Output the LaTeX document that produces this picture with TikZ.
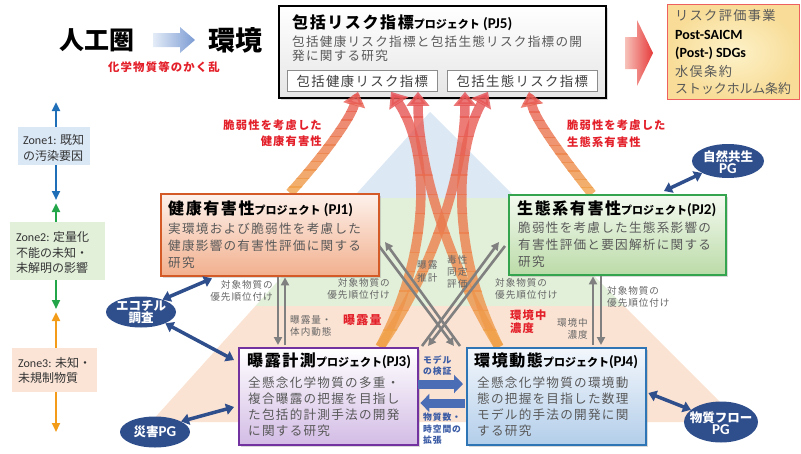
\documentclass[tikz,border=0pt]{standalone}
\usepackage{fontspec}
\setmainfont{Noto Sans CJK JP}
\newfontfamily\jp{Noto Sans CJK JP}[LetterSpace=10]
\newfontfamily\jpn{Noto Sans CJK JP}
\newfontfamily\carl{Carlito}
\usetikzlibrary{arrows.meta,shapes.geometric,calc,shadows}
\definecolor{pyrblue}{HTML}{DCE8F4}
\definecolor{pyrgreen}{HTML}{E2EFD9}
\definecolor{pyrorange}{HTML}{FBE3D3}
\definecolor{zblue}{HTML}{1F6FB8}
\definecolor{zgreen}{HTML}{23A64A}
\definecolor{zorange}{HTML}{F39C1A}
\definecolor{zbluebg}{HTML}{DAE7F5}
\definecolor{zgreenbg}{HTML}{E2F0DA}
\definecolor{zorangebg}{HTML}{FBE4D6}
\definecolor{bodygray}{HTML}{595959}
\definecolor{glabc}{HTML}{666666}
\definecolor{redlab}{HTML}{E3202A}
\definecolor{navylab}{HTML}{3B5BA5}
\definecolor{navy}{HTML}{2F4E8C}
\definecolor{grayarr}{HTML}{808080}
\definecolor{blockc}{HTML}{4A6DB5}
\definecolor{ortop}{HTML}{E54E55}
\definecolor{orbot}{HTML}{F0A048}
\definecolor{pjAb}{HTML}{D45B28}\definecolor{pjAt}{HTML}{FDF1EB}\definecolor{pjAu}{HTML}{F2B08E}
\definecolor{pjBb}{HTML}{35A44F}\definecolor{pjBt}{HTML}{F4FAF0}\definecolor{pjBu}{HTML}{BBDBA8}
\definecolor{pjCb}{HTML}{7232A0}\definecolor{pjCt}{HTML}{FFFFFF}\definecolor{pjCu}{HTML}{D3BCE5}
\definecolor{pjDb}{HTML}{2E75B6}\definecolor{pjDt}{HTML}{F3F7FC}\definecolor{pjDu}{HTML}{B3CEEA}
\definecolor{yin}{HTML}{FDF2C9}\definecolor{yout}{HTML}{F8DC97}\definecolor{yborder}{HTML}{EE5F5F}
\definecolor{arrL}{HTML}{E4ECF7}\definecolor{arrR}{HTML}{7B9BD3}
\definecolor{redL}{HTML}{F7C2BA}\definecolor{redR}{HTML}{E63B3B}
\definecolor{inboxtext}{HTML}{404040}
\newcommand\gradcurve[3]{%
  \foreach \i in {0,...,13}{%
    \pgfmathsetmacro\ya{#2-14+(#3-#2+16)*\i/14}%
    \pgfmathsetmacro\yb{#2-14+(#3-#2+16)*(\i+1)/14+0.4}%
    \pgfmathsetmacro\pc{100*\i/13}%
    \begin{scope}
      \clip (0,\ya) rectangle (801,\yb);
      \draw[orarrow, draw=orbot!\pc!ortop] #1;
    \end{scope}
  }%
}
\newcommand\pgfont{\carl\bfseries\fontsize{15}{12.5}\selectfont}
\begin{document}
\begin{tikzpicture}[x=1pt,y=-1pt,
  box/.style={draw, line width=2pt, anchor=north west, inner sep=0pt,
    drop shadow={shadow xshift=1.5pt,shadow yshift=-1.5pt,opacity=.3}},
  jbody/.style={anchor=base west, inner sep=0pt, text=bodygray, font=\jp\fontsize{12.6}{14}\selectfont},
  ttl/.style={anchor=base west, inner sep=0pt, text=black, font=\bfseries},
  glab/.style={inner sep=0pt, text=glabc, font=\jp\fontsize{9.6}{10}\selectfont},
  rlab/.style={inner sep=0pt, text=redlab, font=\jp\bfseries\fontsize{11.3}{12}\selectfont},
  nlab/.style={anchor=base west, inner sep=0pt, text=navylab, font=\jp\bfseries\fontsize{8.8}{10}\selectfont},
  pg/.style={ellipse, fill=navy, inner sep=0pt},
  pgt/.style={text=white, font=\jpn\bfseries\fontsize{12.5}{12.5}\selectfont, align=center, inner sep=0pt},
  navyarrow/.style={draw=navy, line width=3.5pt, {Triangle[width=11pt,length=8pt]}-{Triangle[width=11pt,length=8pt]}},
  grayarrow/.style={draw=grayarr, line width=2.6pt, -{Triangle[width=8pt,length=8pt]}},
  blockarrow/.style={draw=blockc, line width=9pt, -{Triangle[width=18pt,length=9pt]}},
  zonearrow/.style={line width=2.5pt, {Triangle[width=8pt,length=9pt]}-{Triangle[width=8pt,length=9pt]}},
  orarrow/.style={line width=9.5pt, opacity=0.8, -{Triangle[width=22pt,length=14pt]}},
  zonebox/.style={anchor=north west, inner sep=0pt},
  zonetext/.style={anchor=base west, inner sep=0pt, text=black!80, font=\jpn\fontsize{12}{15.5}\selectfont},
  inboxt/.style={inner sep=0pt, text=inboxtext, font=\jp\fontsize{13.4}{14}\selectfont},
  ylw/.style={anchor=base west, inner sep=0pt, text=bodygray, font=\jp\fontsize{13.2}{14}\selectfont},
  ylat/.style={anchor=base west, inner sep=0pt, text=black, font=\carl\bfseries\fontsize{14}{15}\selectfont}
]
\useasboundingbox (0,0) rectangle (801,453);
% background pyramid
\fill[pyrblue] (430,112) -- (516,198) -- (352.6,198) -- cycle;
\fill[pyrgreen] (352.6,198) -- (516,198) -- (624,306) -- (255.4,306) -- cycle;
\fill[pyrorange] (255.4,306) -- (624,306) -- (740,422) -- (151,422) -- cycle;

% zone arrows
\coordinate (z1t) at (56,102); \coordinate (z1b) at (56,200);
\coordinate (z2t) at (56,203); \coordinate (z2b) at (56,309);
\coordinate (z3t) at (56,312); \coordinate (z3b) at (56,432);
\draw[zonearrow, draw=zblue] (z1t) -- (z1b);
\draw[zonearrow, draw=zgreen] (z2t) -- (z2b);
\draw[zonearrow, draw=zorange] (z3t) -- (z3b);
\node[zonebox, fill=zbluebg, minimum width=72, minimum height=38] (zl1) at (18,127) {};
\node[zonebox, fill=zgreenbg, minimum width=95, minimum height=58] (zl2) at (10,222) {};
\node[zonebox, fill=zorangebg, minimum width=85, minimum height=44] (zl3) at (12,348) {};
\node[zonetext] (zt1a) at (23,144.5) {{\carl Zone1:} 既知};
\node[zonetext] (zt1b) at (23,160) {の汚染要因};
\node[zonetext] (zt2a) at (16,241.5) {{\carl Zone2:} 定量化};
\node[zonetext] (zt2b) at (16,257) {不能の未知・};
\node[zonetext] (zt2c) at (16,272.5) {未解明の影響};
\node[zonetext] (zt3a) at (18,367.5) {{\carl Zone3:} 未知・};
\node[zonetext] (zt3b) at (18,382.5) {未規制物質};

% header
\node[inner sep=0pt, font=\jpn\bfseries\fontsize{25}{25}\selectfont] (jinko) at (97,40) {人工圏};
\node[inner sep=0pt, font=\jpn\bfseries\fontsize{27}{27}\selectfont] (kankyo) at (235,40) {環境};
\node[rlab, font=\jp\bfseries\fontsize{11.4}{12}\selectfont] (kakuran) at (164,67) {化学物質等のかく乱};
\shade[left color=arrL, right color=arrR] (153,33) -- (180,33) -- (180,27) -- (195,40) -- (180,53) -- (180,47) -- (153,47) -- cycle;

% PJ5 and output box
\node[box, draw=black, top color=white, bottom color=black!10, minimum width=327, minimum height=92] (pj5) at (278,5) {};
\node[anchor=north west, draw=black!45, line width=0.8pt, fill=white, minimum width=150, minimum height=21, inner sep=0pt] (h1) at (287,70) {};
\node[anchor=north west, draw=black!45, line width=0.8pt, fill=white, minimum width=150, minimum height=21, inner sep=0pt] (h2) at (447,70) {};
\node[inboxt] (h1t) at (h1) {包括健康リスク指標};
\node[inboxt] (h2t) at (h2) {包括生態リスク指標};
\node[ttl] (p5t) at (292,28.5) {{\jp\fontsize{16}{16}\selectfont 包括リスク指標}{\jpn\fontsize{11}{11}\selectfont プロジェクト}{\carl\fontsize{15}{15}\selectfont{} (PJ5)}};
\node[jbody] (p5a) at (292,46.5) {包括健康リスク指標と包括生態リスク指標の開};
\node[jbody] (p5b) at (292,60) {発に関する研究};

\shade[left color=redL, right color=redR] (625,37) -- (637,37) -- (637,20) -- (653,53) -- (637,86) -- (637,69) -- (625,69) -- cycle;
\node[anchor=north west, draw=yborder, line width=0.8pt, inner color=yin, outer color=yout, minimum width=132, minimum height=95, inner sep=0pt] (yel) at (667,4) {};
\node[ylw] (y1) at (675,20) {リスク評価事業};
\node[ylat] (y2) at (675,39.5) {Post-SAICM};
\node[ylat] (y3) at (675,57.5) {(Post-) SDGs};
\node[ylw] (y4) at (675,76) {水俣条約};
\node[ylw, font=\jpn\fontsize{12.9}{14}\selectfont] (y5) at (675,93) {ストックホルム条約};

% boxes PJ1-4 (positions only, drawn later)
\path (160,193) node[anchor=north west, minimum width=218, minimum height=82, inner sep=0pt] (pj1) {};
\path (508,194) node[anchor=north west, minimum width=217, minimum height=80, inner sep=0pt] (pj2) {};
\path (238,347) node[anchor=north west, minimum width=179, minimum height=97, inner sep=0pt] (pj3) {};
\path (466,347) node[anchor=north west, minimum width=179, minimum height=97, inner sep=0pt] (pj4) {};

% orange arrows
\gradcurve{($(pj1.north west)+(130,0)$) .. controls (320,160) and (350,120) .. ($(h1.south west)+(71,0)$)}{92}{193}
\gradcurve{($(pj2.north west)+(84,0)$) .. controls (565,160) and (535,120) .. ($(h2.south west)+(82,0)$)}{92}{194}
\gradcurve{($(pj3.north west)+(142,0)$) .. controls (432,250) and (430,150) .. ($(h1.south west)+(104,0)$)}{92}{347}
\gradcurve{($(pj3.north west)+(142,0)$) .. controls (440,260) and (465,160) .. ($(h2.south west)+(18,0)$)}{92}{347}
\gradcurve{($(pj4.north west)+(33,0)$) .. controls (445,260) and (418,160) .. ($(h1.south west)+(131,0)$)}{92}{347}
\gradcurve{($(pj4.north west)+(33,0)$) .. controls (450,250) and (455,150) .. ($(h2.south west)+(41,0)$)}{92}{347}

% gray arrows
\draw[grayarrow] ($(pj1.south west)+(118,2)$) -- ($(pj3.north west)+(40,-2)$);
\draw[grayarrow] ($(pj3.north west)+(47,-2)$) -- ($(pj1.south west)+(125,2)$);
\draw[grayarrow] ($(pj4.north west)+(127,-2)$) -- ($(pj2.south west)+(85,2)$);
\draw[grayarrow] ($(pj2.south west)+(93,2)$) -- ($(pj4.north west)+(135,-2)$);
\coordinate (d1s) at (379,246); \coordinate (d1e) at (454,346);
\coordinate (u1s) at (460,346); \coordinate (u1e) at (385,242);
\coordinate (d2s) at (505,246); \coordinate (d2e) at (428,346);
\coordinate (u2s) at (422,346); \coordinate (u2e) at (499,242);
\draw[grayarrow] (d1s) -- (d1e);
\draw[grayarrow] (u1s) -- (u1e);
\draw[grayarrow] (d2s) -- (d2e);
\draw[grayarrow] (u2s) -- (u2e);

% PJ boxes
\node[box, draw=pjAb, top color=pjAt, bottom color=pjAu, minimum width=218, minimum height=82] (pj1b) at (pj1.north west) {};
\node[box, draw=pjBb, top color=pjBt, bottom color=pjBu, minimum width=217, minimum height=80] (pj2b) at (pj2.north west) {};
\node[box, draw=pjCb, top color=pjCt, bottom color=pjCu, minimum width=179, minimum height=97] (pj3b) at (pj3.north west) {};
\node[box, draw=pjDb, top color=pjDt, bottom color=pjDu, minimum width=179, minimum height=97] (pj4b) at (pj4.north west) {};

\node[ttl] (p1t) at (168,214.5) {{\jp\fontsize{16}{16}\selectfont 健康有害性}{\jpn\fontsize{11}{11}\selectfont プロジェクト}{\carl\fontsize{15}{15}\selectfont{} (PJ1)}};
\node[jbody] (p1a) at (168,233) {実環境および脆弱性を考慮した};
\node[jbody] (p1b) at (168,250) {健康影響の有害性評価に関する};
\node[jbody] (p1c) at (168,267) {研究};

\node[ttl] (p2t) at (517,214.5) {{\jp\fontsize{16}{16}\selectfont 生態系有害性}{\jpn\fontsize{11}{11}\selectfont プロジェクト}{\carl\fontsize{15}{15}\selectfont(PJ2)}};
\node[jbody] (p2a) at (518,232) {脆弱性を考慮した生態系影響の};
\node[jbody] (p2b) at (518,249) {有害性評価と要因解析に関する};
\node[jbody] (p2c) at (518,266) {研究};

\node[ttl] (p3t) at (247,366.5) {{\jp\fontsize{16}{16}\selectfont 曝露計測}{\jpn\fontsize{11}{11}\selectfont プロジェクト}{\carl\fontsize{15}{15}\selectfont(PJ3)}};
\node[jbody] (p3a) at (248,387) {全懸念化学物質の多重・};
\node[jbody] (p3b) at (248,403) {複合曝露の把握を目指し};
\node[jbody] (p3c) at (248,419) {た包括的計測手法の開発};
\node[jbody] (p3d) at (248,435.5) {に関する研究};

\node[ttl] (p4t) at (474,366.5) {{\jp\fontsize{16}{16}\selectfont 環境動態}{\jpn\fontsize{11}{11}\selectfont プロジェクト}{\carl\fontsize{15}{15}\selectfont(PJ4)}};
\node[jbody] (p4a) at (477,387) {全懸念化学物質の環境動};
\node[jbody] (p4b) at (477,403) {態の把握を目指した数理};
\node[jbody] (p4c) at (477,419) {モデル的手法の開発に関};
\node[jbody] (p4d) at (477,435.5) {する研究};

% block arrows PJ3 <-> PJ4
\draw[blockarrow] ($(pj3.north east)+(1,37)$) -- ($(pj4.north west)+(-3,37)$);
\draw[blockarrow] ($(pj4.north west)+(-1,56)$) -- ($(pj3.north east)+(3,56)$);
\node[nlab] (m1) at (423,363.5) {モデル};
\node[nlab] (m2) at (423,374) {の検証};
\node[nlab] (m3) at (423,420.5) {物質数・};
\node[nlab] (m4) at (423,432) {時空間の};
\node[nlab] (m5) at (423,443.5) {拡張};

% PG ellipses
\node[pg, minimum width=72, minimum height=34] (shz) at (728,161) {};
\node[pg, minimum width=70, minimum height=31] (eco) at (141,312) {};
\node[pg, minimum width=70, minimum height=31] (sai) at (155,432) {};
\node[pg, minimum width=74, minimum height=41] (flow) at (721,422) {};
\node[pgt] (shzt) at (728,162) {自然共生\\{\pgfont PG}};
\node[pgt] (ecot) at (141,312) {エコチル\\調査};
\node[pgt] (sait) at (155,432) {災害{\pgfont PG}};
\node[pgt] (flowt) at (721,423) {物質フロー\\{\pgfont PG}};

\draw[navyarrow] (eco.30) -- ($(pj1.south west)+(52,3)$);
\draw[navyarrow] (eco.-25) -- ($(pj3.north west)+(-4,13)$);
\draw[navyarrow] (sai.22) -- ($(pj3.north west)+(-4,60)$);
\draw[navyarrow] (shz.205) -- ($(pj2.north west)+(156,-3)$);
\draw[navyarrow] (flow.158) -- ($(pj4.north east)+(3,46)$);

% red labels
\node[rlab, anchor=base east] (r1a) at (322,129.3) {脆弱性を考慮した};
\node[rlab, anchor=base east] (r1b) at (322,145.3) {健康有害性};
\node[rlab, anchor=base west] (r2a) at (567,129.3) {脆弱性を考慮した};
\node[rlab, anchor=base west] (r2b) at (567,146.3) {生態系有害性};
\node[rlab, anchor=base west, font=\jp\bfseries\fontsize{12}{12}\selectfont] (r3) at (343,324.5) {曝露量};
\node[rlab, anchor=base west] (r4a) at (510,319.5) {環境中};
\node[rlab, anchor=base west] (r4b) at (510,332.5) {濃度};

% gray labels
\node[glab, anchor=base east] (g1a) at (273,288.5) {対象物質の};
\node[glab, anchor=base east] (g1b) at (273,300.5) {優先順位付け};
\node[glab, anchor=base west] (g2a) at (290,323.5) {曝露量・};
\node[glab, anchor=base west] (g2b) at (290,335) {体内動態};
\node[glab, anchor=base east] (g3a) at (390,286.5) {対象物質の};
\node[glab, anchor=base east] (g3b) at (390,298.5) {優先順位付け};
\node[glab, anchor=base west] (g4a) at (417,268.5) {曝露};
\node[glab, anchor=base west] (g4b) at (417,281.5) {推計};
\node[glab, anchor=base west] (g5a) at (447,263.5) {毒性};
\node[glab, anchor=base west] (g5b) at (447,275.5) {同定};
\node[glab, anchor=base west] (g5c) at (447,287) {評価};
\node[glab, anchor=base west] (g6a) at (495,286.5) {対象物質の};
\node[glab, anchor=base west] (g6b) at (495,298.5) {優先順位付け};
\node[glab, anchor=base east] (g7a) at (588,326.5) {環境中};
\node[glab, anchor=base east] (g7b) at (588,338.5) {濃度};
\node[glab, anchor=base west] (g8a) at (607,294.5) {対象物質の};
\node[glab, anchor=base west] (g8b) at (607,306) {優先順位付け};
\end{tikzpicture}
\end{document}
